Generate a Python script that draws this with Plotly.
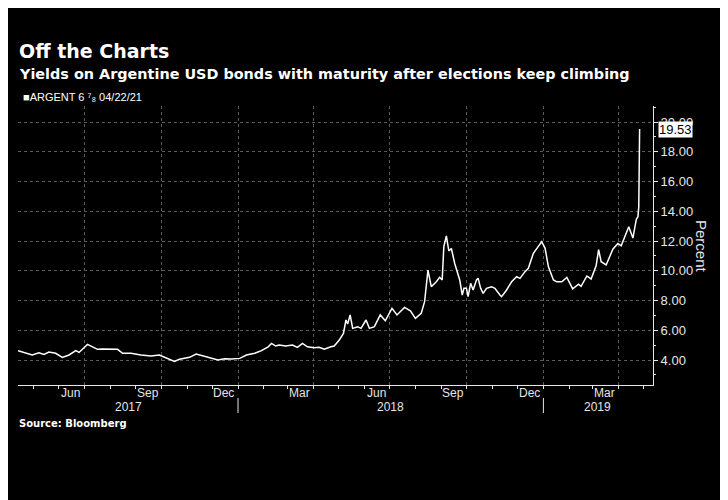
import plotly.graph_objects as go

# ---- data ----
dates = [
    "2017-04-13", "2017-04-22", "2017-04-30", "2017-05-08", "2017-05-14", "2017-05-20",
    "2017-05-28", "2017-06-05", "2017-06-13", "2017-06-21", "2017-06-25", "2017-07-05",
    "2017-07-11", "2017-07-17", "2017-07-23", "2017-07-29", "2017-08-10", "2017-08-16",
    "2017-08-26", "2017-09-07", "2017-09-19", "2017-09-29", "2017-10-09", "2017-10-17",
    "2017-10-23", "2017-10-29", "2017-11-04", "2017-11-12", "2017-11-20", "2017-11-30",
    "2017-12-08", "2017-12-16", "2017-12-24", "2018-01-03", "2018-01-11", "2018-01-21",
    "2018-01-29", "2018-02-06", "2018-02-10", "2018-02-15", "2018-02-19", "2018-02-27",
    "2018-03-07", "2018-03-13", "2018-03-19", "2018-03-25", "2018-04-02", "2018-04-08",
    "2018-04-14", "2018-04-22", "2018-04-26", "2018-05-02", "2018-05-07", "2018-05-10",
    "2018-05-12", "2018-05-15", "2018-05-18", "2018-05-24", "2018-05-28", "2018-06-03",
    "2018-06-07", "2018-06-13", "2018-06-20", "2018-06-26", "2018-07-04", "2018-07-10",
    "2018-07-19", "2018-07-26", "2018-08-01", "2018-08-08", "2018-08-12", "2018-08-16",
    "2018-08-20", "2018-08-26", "2018-08-30", "2018-09-02", "2018-09-04", "2018-09-07",
    "2018-09-10", "2018-09-13", "2018-09-17", "2018-09-23", "2018-09-26", "2018-09-28",
    "2018-10-01", "2018-10-03", "2018-10-06", "2018-10-09", "2018-10-13", "2018-10-15",
    "2018-10-18", "2018-10-21", "2018-10-25", "2018-10-31", "2018-11-04", "2018-11-10",
    "2018-11-12", "2018-11-18", "2018-11-24", "2018-11-30", "2018-12-04", "2018-12-10",
    "2018-12-14", "2018-12-20", "2018-12-26", "2018-12-30", "2019-01-03", "2019-01-07",
    "2019-01-13", "2019-01-17", "2019-01-23", "2019-01-29", "2019-02-05", "2019-02-12",
    "2019-02-15", "2019-02-22", "2019-02-27", "2019-03-05", "2019-03-08", "2019-03-11",
    "2019-03-17", "2019-03-25", "2019-03-31", "2019-04-04", "2019-04-13", "2019-04-18",
    "2019-04-22", "2019-04-24", "2019-04-25", "2019-04-26",
]
yields = [
    4.63, 4.45, 4.34, 4.49, 4.38, 4.54,
    4.45, 4.18, 4.34, 4.63, 4.51, 5.05,
    4.89, 4.72, 4.74, 4.72, 4.72, 4.45,
    4.45, 4.34, 4.27, 4.34, 4.11, 3.91,
    4.05, 4.11, 4.18, 4.40, 4.27, 4.16,
    4.00, 4.09, 4.07, 4.11, 4.34, 4.45,
    4.63, 4.89, 5.12, 4.94, 5.01, 4.94,
    5.01, 4.85, 5.12, 4.89, 4.83, 4.85,
    4.72, 4.89, 4.94, 5.34, 5.79, 6.69,
    6.42, 7.03, 6.13, 6.24, 6.13, 6.69,
    6.13, 6.24, 7.03, 6.64, 7.47, 7.03,
    7.54, 7.31, 6.80, 7.14, 7.92, 10.05,
    8.93, 9.26, 9.56, 9.38, 11.62, 12.34,
    11.33, 11.50, 10.49, 9.38, 8.37, 8.82,
    8.82, 8.26, 9.16, 8.71, 9.38, 9.49,
    8.82, 8.48, 8.82, 8.93, 8.82, 8.37,
    8.26, 8.71, 9.26, 9.60, 9.49, 9.94,
    10.17, 11.17, 11.62, 11.96, 11.51, 10.27,
    9.38, 9.26, 9.26, 9.55, 8.78, 9.10,
    8.95, 9.65, 9.45, 10.33, 11.42, 10.61,
    10.39, 11.45, 11.84, 11.68, 12.96, 12.20,
    13.45, 13.64, 14.31, 19.53,
]

month_labels = ["Jun", "Sep", "Dec", "Mar", "Jun", "Sep", "Dec", "Mar"]
month_label_dates = ["2017-06-15", "2017-09-15", "2017-12-15", "2018-03-15",
                     "2018-06-15", "2018-09-15", "2018-12-15", "2019-03-15"]
year_labels = ["2017", "2018", "2019"]
year_label_dates = ["2017-08-23", "2018-07-02", "2019-03-07"]
year_breaks = ["2018-01-01", "2019-01-01"]
y_ticks = [4, 6, 8, 10, 12, 14, 16, 18, 20]

title = "Off the Charts"
subtitle = "Yields on Argentine USD bonds with maturity after elections keep climbing"
series_name = "ARGENT 6 ⁷₈ 04/22/21"
source = "Source: Bloomberg"

x_range = ["2017-04-13", "2019-05-12"]
y_range = [2.32, 21.08]

BG = "#000000"
FG = "#ffffff"
TICK = "#e6e6e6"
GRID = "#5a5a5a"
SANS = "Liberation Sans, Arial, sans-serif"
BOLD = "DejaVu Sans, Verdana, sans-serif"

# the page body has an 8px margin; the figure is sized to fill the rest of the window
W, H = 720, 492
M_L, M_R, M_T, M_B = 10, 75, 98, 115
PLOT_H = H - M_T - M_B


def py(p):
    """window pixel row -> paper y (window rows are offset by the 8px body margin)"""
    return (H - M_B - (p - 8)) / PLOT_H


fig = go.Figure()
fig.add_trace(go.Scatter(
    x=dates, y=yields, mode="lines",
    line=dict(color=FG, width=1.5),
    showlegend=False, hoverinfo="skip",
))

fig.update_layout(
    width=W, height=H,
    paper_bgcolor=BG, plot_bgcolor=BG,
    margin=dict(l=M_L, r=M_R, t=M_T, b=M_B),
    showlegend=False,
    xaxis=dict(
        type="date", range=x_range,
        showline=True, linecolor=TICK, linewidth=1,
        showticklabels=False,
        tick0="2017-01-01", dtick="M3",
        ticks="outside", ticklen=3, tickcolor=TICK,
        showgrid=True, gridcolor=GRID, griddash="dot", gridwidth=1,
        minor=dict(dtick="M1", tick0="2017-01-01", ticks="outside", ticklen=3,
                   tickcolor=TICK, showgrid=False),
        zeroline=False,
    ),
    yaxis=dict(
        side="right", range=y_range,
        tickvals=y_ticks, tickformat=".2f",
        tickfont=dict(family=SANS, size=13, color=TICK),
        showline=True, linecolor=TICK, linewidth=1,
        ticks="outside", ticklen=4, tickcolor=TICK,
        showgrid=True, gridcolor=GRID, griddash="dot", gridwidth=1,
        minor=dict(dtick=1, tick0=1, ticks="outside", ticklen=2, tickcolor=TICK, showgrid=False),
        zeroline=False,
    ),
)

ann = []
ann.append(dict(text="<b>" + title + "</b>", xref="paper", yref="paper",
                x=0, y=py(51), xanchor="left", yanchor="middle",
                xshift=-1, showarrow=False,
                font=dict(family=BOLD, size=19, color=FG)))
ann.append(dict(text="<b>" + subtitle + "</b>", xref="paper", yref="paper",
                x=0, y=py(74), xanchor="left", yanchor="middle",
                xshift=-1, showarrow=False,
                font=dict(family=BOLD, size=14.4, color=FG)))
ann.append(dict(text="■" + series_name, xref="paper", yref="paper",
                x=0, y=py(97), xanchor="left", yanchor="middle",
                xshift=3, showarrow=False,
                font=dict(family=SANS, size=11, color=FG)))
ann.append(dict(text="<b>" + source + "</b>", xref="paper", yref="paper",
                x=0, y=py(423), xanchor="left", yanchor="middle",
                xshift=-1, showarrow=False,
                font=dict(family=BOLD, size=10, color=FG)))
for d, lab in zip(month_label_dates, month_labels):
    ann.append(dict(text=lab, x=d, xref="x", yref="paper", y=py(393),
                    xanchor="center", yanchor="middle", showarrow=False,
                    font=dict(family=SANS, size=12, color=TICK)))
for d, lab in zip(year_label_dates, year_labels):
    ann.append(dict(text=lab, x=d, xref="x", yref="paper", y=py(407),
                    xanchor="center", yanchor="middle", showarrow=False,
                    font=dict(family=SANS, size=12, color=TICK)))
# last-value tag
ann.append(dict(text=f"{yields[-1]:.2f}", xref="paper", x=1, yref="y", y=yields[-1],
                xanchor="left", yanchor="middle", xshift=5, showarrow=False,
                bgcolor="#ffffff", borderpad=0,
                font=dict(family=SANS, size=13, color="#000000")))
ann.append(dict(text="Percent", xref="paper", x=1, xshift=49, yref="paper",
                y=py(246), xanchor="center", yanchor="middle",
                textangle=90, showarrow=False,
                font=dict(family=SANS, size=15, color=TICK)))
fig.update_layout(annotations=ann)

shapes = []
for d in year_breaks:
    shapes.append(dict(type="line", xref="x", x0=d, x1=d, yref="paper",
                       y0=py(398), y1=py(413),
                       line=dict(color=TICK, width=1)))
fig.update_layout(shapes=shapes)

fig.write_html("out.html")
